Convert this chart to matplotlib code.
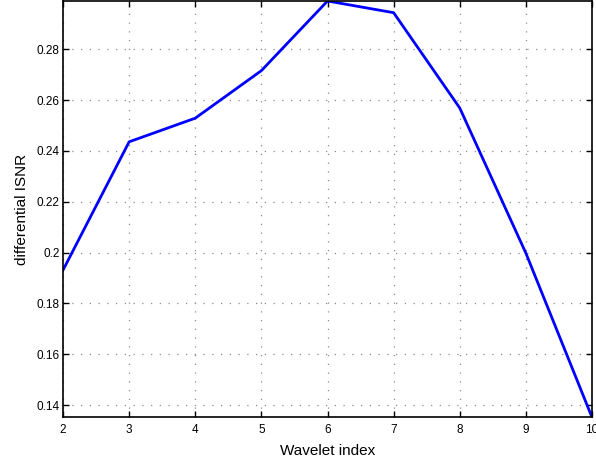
import matplotlib
matplotlib.use("Agg")
import matplotlib.pyplot as plt

# Differential ISNR per wavelet index
wavelet_idx = [2, 3, 4, 5, 6, 7, 8, 9, 10]
isnr = [0.1931, 0.2436, 0.2529, 0.2716, 0.2990, 0.2944, 0.2569, 0.1998, 0.1352]
yticks = [0.14, 0.16, 0.18, 0.2, 0.22, 0.24, 0.26, 0.28]
ytick_labels = ["0.14", "0.16", "0.18", "0.2", "0.22", "0.24", "0.26", "0.28"]

plt.rcParams["font.family"] = ["Liberation Sans", "DejaVu Sans"]

fig = plt.figure(figsize=(5.96, 4.59), dpi=100)
ax = fig.add_axes([0.1057, 0.0908, 0.8876, 0.907])

ax.plot(wavelet_idx, isnr, color="#0000ff", linewidth=2)

ax.set_xlim(min(wavelet_idx), max(wavelet_idx))
ax.set_ylim(min(isnr), max(isnr))
ax.set_xticks(wavelet_idx)
ax.set_yticks(yticks)
ax.set_yticklabels(ytick_labels)

ax.grid(True, color="#8c8c8c", linestyle=(0, (1, 6)), linewidth=0.9)
ax.tick_params(direction="in", labelsize=8.5, length=4, width=1,
               top=True, right=True)
ax.tick_params(axis="y", pad=2.5)
ax.tick_params(axis="x", pad=4.5)
for s in ax.spines.values():
    s.set_linewidth(1.2)

ax.set_xlabel("Wavelet index", fontsize=11, labelpad=6)
ax.set_ylabel("differential ISNR", fontsize=11, labelpad=5)

fig.savefig("out.png", dpi=100)
